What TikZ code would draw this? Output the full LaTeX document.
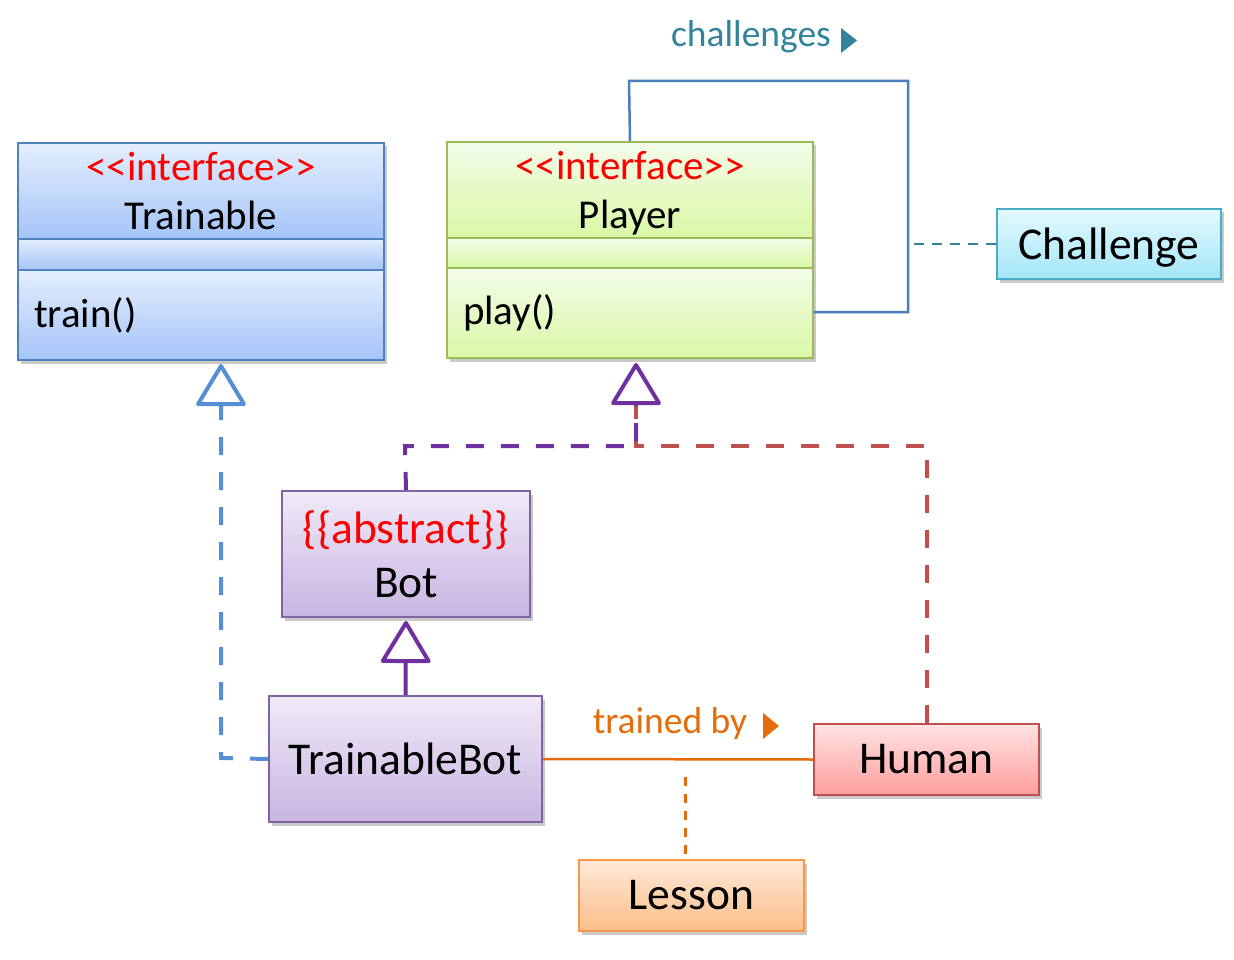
\documentclass[tikz,border=0pt]{standalone}
\usepackage{fontspec}
\setmainfont{Carlito}
\usetikzlibrary{shadows,arrows.meta}
\definecolor{tbBorder}{HTML}{4F81BD}
\definecolor{tbTop}{HTML}{E4EEFD}
\definecolor{tbBot}{HTML}{A5C4F8}
\definecolor{plBorder}{HTML}{9BBB59}
\definecolor{plTop}{HTML}{F4FCEA}
\definecolor{plBot}{HTML}{D9F8A6}
\definecolor{btBorder}{HTML}{8064A2}
\definecolor{btTop}{HTML}{F0EAF8}
\definecolor{btBot}{HTML}{C8B5E2}
\definecolor{huBorder}{HTML}{C0504D}
\definecolor{huTop}{HTML}{FFE3E3}
\definecolor{huBot}{HTML}{FF9D9D}
\definecolor{chBorder}{HTML}{4BACC6}
\definecolor{chTop}{HTML}{E3F9FF}
\definecolor{chBot}{HTML}{A4E6F8}
\definecolor{leBorder}{HTML}{F79646}
\definecolor{leTop}{HTML}{FFE9D9}
\definecolor{leBot}{HTML}{FBBE88}
\definecolor{loopBlue}{HTML}{4A7EBB}
\definecolor{tealc}{HTML}{31849B}
\definecolor{ifBlue}{HTML}{558ED5}
\definecolor{purp}{HTML}{7030A0}
\definecolor{redd}{HTML}{C0504D}
\definecolor{orng}{HTML}{E46C0A}
\definecolor{stereo}{HTML}{FF0000}
\newcommand{\fsz}[1]{\fontsize{#1}{#1}\selectfont}
\newcommand{\ifacelabel}{\textcolor{stereo}{{<}{<}interface{>}{>}}}
\newcommand{\nodepth}[1]{\raisebox{0pt}[\height][0pt]{#1}}
\begin{document}
\begin{tikzpicture}[x=1pt,y=-1pt,
  box/.style={rectangle, inner sep=0pt, anchor=north west, line width=2pt,
    drop shadow={shadow xshift=2.5pt, shadow yshift=-3.5pt, opacity=0.3, fill=black!70}},
  tbox/.style={box, draw=tbBorder, top color=tbTop, bottom color=tbBot},
  pbox/.style={box, draw=plBorder, top color=plTop, bottom color=plBot},
  bbox/.style={box, draw=btBorder, top color=btTop, bottom color=btBot},
  hbox/.style={box, draw=huBorder, top color=huTop, bottom color=huBot},
  cbox/.style={box, draw=chBorder, top color=chTop, bottom color=chBot},
  lbox/.style={box, draw=leBorder, top color=leTop, bottom color=leBot},
  realize/.style={line width=4pt, dash pattern=on 18pt off 17pt,
    -{Triangle[open, length=44pt, width=52pt, line join=round]}},
  general/.style={line width=4pt,
    -{Triangle[open, length=44pt, width=52pt, line join=round]}},
]
\useasboundingbox (0,0) rectangle (1234,960);

% Trainable
\node[tbox, minimum width=366pt, minimum height=96pt, align=center,
  font=\fsz{41}] (tH) at (17,142) {\ifacelabel\\[8pt]Trainable};
\node[tbox, minimum width=366pt, minimum height=31pt] (tA) at (17,238) {};
\node[tbox, minimum width=366pt, minimum height=90pt, inner xsep=16pt,
  text width=334pt, align=left, font=\fsz{41}] (tM) at (17,269) {\raisebox{3pt}{train()}};

% Player
\node[pbox, minimum width=366pt, minimum height=96pt, align=center,
  font=\fsz{41}] (pH) at (446,141) {\ifacelabel\\[8pt]\nodepth{Player}};
\node[pbox, minimum width=366pt, minimum height=30pt] (pA) at (446,237) {};
\node[pbox, minimum width=366pt, minimum height=90pt, inner xsep=16pt,
  text width=334pt, align=left, font=\fsz{41}] (pM) at (446,267) {\raisebox{3pt}{play()}};

% Challenge
\node[cbox, minimum width=224pt, minimum height=70pt, font=\fsz{45.5}] (ch) at (996,208) {\nodepth{Challenge}};

% Bot
\node[bbox, minimum width=248pt, minimum height=126pt, align=center,
  font=\fsz{45.5}] (bot) at (281,490) {\textcolor{stereo}{\{\{abstract\}\}}\\[9pt]Bot};

% TrainableBot
\node[bbox, minimum width=273pt, minimum height=126pt, font=\fsz{45.5}] (tb) at (268,695) {TrainableBot};

% Human
\node[hbox, minimum width=225pt, minimum height=71pt, font=\fsz{45.5}] (hu) at (813,723) {Human};

% Lesson
\node[lbox, minimum width=225pt, minimum height=71pt, font=\fsz{45.5}] (le) at (578,859) {Lesson};

% self association challenges
\coordinate (lp) at (908,244);
\draw[loopBlue, line width=2.5pt] (pH.north) -- (629,81) -- (908,81) -- (908,312) -- (pM.east |- 0,312);
\draw[tealc, line width=2.5pt, dash pattern=on 10pt off 8pt] (ch.west) -- (lp);
\node[text=tealc, font=\fsz{37.5}] (chl) at (751,37) {challenges};
\fill[tealc] (841,28) -- (857,40.5) -- (841,53) -- cycle;

% realizations to Player
\coordinate (pj) at (636,446);
\draw[redd, line width=4pt, dash pattern=on 18pt off 17pt] (hu.north -| 927,0) -- (927,446) -- (pj) -- (636,400);
\draw[purp, realize, shorten >=4pt] (bot.north) -- (405,446) -- (pj) -- (pM.south -| pj);

% realization to Trainable
\draw[ifBlue, realize, shorten >=3pt] (tb.west) -- (221,758) -- (tM.south -| 221,0);

% generalization Bot
\draw[purp, general, shorten >=3pt] (tb.north) -- (bot.south);

% association trained by
\coordinate (am) at (685,758);
\draw[orng, line width=2.5pt] (tb.east) -- (hu.west);
\draw[orng, line width=3pt, dash pattern=on 9pt off 8pt] (685,777) -- (le.north -| am);
\node[text=orng, font=\fsz{37.5}] (tbl) at (670,723) {trained by};
\fill[orng] (763,713) -- (779,726) -- (763,739) -- cycle;
\end{tikzpicture}
\end{document}
